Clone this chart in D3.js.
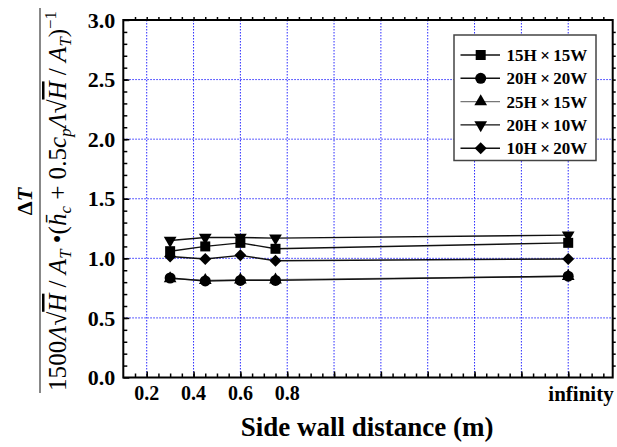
<!DOCTYPE html>
<html>
<head>
<meta charset="utf-8">
<script src="https://cdn.jsdelivr.net/npm/d3@7"></script>
<style>
  body { margin: 0; background: #fff; }
</style>
</head>
<body>
<svg id="chart" width="617" height="447" font-family="'Liberation Serif', 'Times New Roman', Times, 'DejaVu Serif', serif"></svg>
<script>
// side wall distance (m); "infinity" is drawn at 2.0
const distances = [0.3, 0.45, 0.6, 0.75, 2.0];
const seriesNames = ["15H\u2009×\u200915W", "20H\u2009×\u200920W", "25H\u2009×\u200915W", "20H\u2009×\u200910W", "10H\u2009×\u200920W"];
const vals15x15 = [1.06, 1.10, 1.13, 1.08, 1.13];
const vals20x20 = [0.835, 0.81, 0.815, 0.815, 0.85];
const vals25x15 = [0.83, 0.815, 0.82, 0.82, 0.85];
const vals20x10 = [1.15, 1.175, 1.175, 1.17, 1.195];
const vals10x20 = [1.015, 0.995, 1.025, 0.98, 0.995];

const xTickValues = [0.2, 0.4, 0.6, 0.8];
const xTickLabels = ["0.2", "0.4", "0.6", "0.8"];
const infinityLabel = "infinity";
const yTickValues = [0, 0.5, 1.0, 1.5, 2.0, 2.5, 3.0];

const markers = ["square", "circle", "triangleUp", "triangleDown", "diamond"];
const lineColors = ["#111", "#111", "#777", "#111", "#111"];
const allSeries = [vals15x15, vals20x20, vals25x15, vals20x10, vals10x20];

const margin = {top: 20, right: 4.3, bottom: 69.5, left: 123.3}
  , width = 617 - margin.left - margin.right
  , height = 447 - margin.top - margin.bottom;

const svg = d3.select("#chart");

const graph = svg.append("g")
  .attr("transform", "translate(" + margin.left + "," + margin.top + ")");

const xScale = d3.scaleLinear().domain([0.1, 2.19]).range([0, width]);
const yScale = d3.scaleLinear().domain([0, 3]).range([height, 0]);

// grid
const gridColor = "#2a2aff";
graph.append("g").selectAll("line")
  .data(d3.range(0.2, 2.01, 0.2))
  .enter().append("line")
  .attr("x1", d => xScale(d)).attr("x2", d => xScale(d))
  .attr("y1", 0).attr("y2", height)
  .attr("stroke", gridColor).attr("stroke-width", 1)
  .attr("stroke-dasharray", "1.5,1.5");
graph.append("g").selectAll("line")
  .data(yTickValues.slice(1, -1))
  .enter().append("line")
  .attr("x1", 0).attr("x2", width)
  .attr("y1", d => yScale(d)).attr("y2", d => yScale(d))
  .attr("stroke", gridColor).attr("stroke-width", 1)
  .attr("stroke-dasharray", "1.5,1.5");

// ticks (inward on left/bottom, mirrored on right/top)
const xMinor = d3.range(0.15, 2.19, 0.05).map(d => +d.toFixed(2));
const yMinor = d3.range(0.1, 3.0, 0.1).map(d => +d.toFixed(1));
const xMajor = d3.range(0.2, 2.01, 0.2).map(d => +d.toFixed(1));

function styleAxis(g) {
  g.select(".domain").remove();
  g.selectAll("line").attr("stroke", "#000").attr("stroke-width", 1.5);
  g.selectAll("text").remove();
}

graph.append("g").attr("transform", "translate(0," + height + ")")
  .call(d3.axisBottom(xScale).tickValues(xMinor).tickSize(-4)).call(styleAxis);
graph.append("g").attr("transform", "translate(0," + height + ")")
  .call(d3.axisBottom(xScale).tickValues(xMajor).tickSize(-6)).call(styleAxis);
graph.append("g")
  .call(d3.axisTop(xScale).tickValues(xMinor).tickSize(3)).call(styleAxis);
graph.append("g")
  .call(d3.axisLeft(yScale).tickValues(yMinor).tickSize(-4)).call(styleAxis);
graph.append("g")
  .call(d3.axisLeft(yScale).tickValues(yTickValues).tickSize(-6)).call(styleAxis);
graph.append("g").attr("transform", "translate(" + width + ",0)")
  .call(d3.axisRight(yScale).tickValues(yMinor).tickSize(3)).call(styleAxis);

// frame
graph.append("rect")
  .attr("width", width).attr("height", height)
  .attr("fill", "none").attr("stroke", "#000").attr("stroke-width", 2);

// tick labels
graph.append("g").selectAll("text")
  .data(yTickValues)
  .enter().append("text")
  .attr("x", -8).attr("y", d => yScale(d)).attr("dy", "0.35em")
  .attr("text-anchor", "end")
  .attr("font-size", "22px").attr("font-weight", "bold")
  .text(d => d.toFixed(1));

graph.append("g").selectAll("text")
  .data(xTickValues)
  .enter().append("text")
  .attr("x", d => xScale(d)).attr("y", height + 22)
  .attr("text-anchor", "middle")
  .attr("font-size", "20px").attr("font-weight", "bold")
  .text((d, i) => xTickLabels[i]);

graph.append("text")
  .attr("x", width + 1).attr("y", height + 23)
  .attr("text-anchor", "end")
  .attr("font-size", "21px").attr("font-weight", "bold")
  .text(infinityLabel);

// x title
svg.append("text")
  .attr("x", 367).attr("y", 436)
  .attr("text-anchor", "middle")
  .attr("font-size", "27px").attr("font-weight", "bold")
  .text("Side wall distance (m)");

// series
function symbolPath(kind) {
  if (kind === "square") return d3.symbol(d3.symbolSquare, 100)();
  if (kind === "circle") return d3.symbol(d3.symbolCircle, 95)();
  if (kind === "triangleUp" || kind === "triangleDown") return d3.symbol(d3.symbolTriangle, 70)();
  return d3.symbol(d3.symbolSquare, 72)();
}
function symbolRotate(kind) {
  if (kind === "triangleDown") return 180;
  if (kind === "diamond") return 45;
  return 0;
}

const line = d3.line().x((d, i) => xScale(distances[i])).y(d => yScale(d));

const drawOrder = [2, 1, 4, 0, 3];
drawOrder.forEach(k => {
  const g = graph.append("g");
  g.append("path").datum(allSeries[k])
    .attr("d", line)
    .attr("fill", "none").attr("stroke", lineColors[k]).attr("stroke-width", 1.4);
  g.selectAll("path.mk")
    .data(allSeries[k])
    .enter().append("path")
    .attr("class", "mk")
    .attr("d", symbolPath(markers[k]))
    .attr("transform", (d, i) => "translate(" + xScale(distances[i]) + "," + yScale(d) + ") rotate(" + symbolRotate(markers[k]) + ")")
    .attr("fill", "#000");
});

// legend
const legend = svg.append("g");
legend.append("rect")
  .attr("x", 454).attr("y", 35).attr("width", 142).attr("height", 125.5)
  .attr("fill", "#fff").attr("stroke", "#444").attr("stroke-width", 1.5);
seriesNames.forEach((name, k) => {
  const yy = 55 + k * 23.3;
  legend.append("line")
    .attr("x1", 460.5).attr("x2", 500).attr("y1", yy).attr("y2", yy)
    .attr("stroke", lineColors[k]).attr("stroke-width", 1.4);
  legend.append("path")
    .attr("d", symbolPath(markers[k]))
    .attr("transform", "translate(480.7," + yy + ") rotate(" + symbolRotate(markers[k]) + ")")
    .attr("fill", "#000");
  legend.append("text")
    .attr("x", 506.5).attr("y", yy).attr("dy", "0.35em")
    .attr("font-size", "17px").attr("font-weight", "bold")
    .text(name);
});

// y title: fraction
const ytitle = svg.append("g");
ytitle.append("text")
  .attr("transform", "translate(32,201.5) rotate(-90)")
  .attr("text-anchor", "middle")
  .attr("font-size", "22px").attr("font-weight", "bold")
  .call(t => {
    t.append("tspan").text("Δ");
    t.append("tspan").attr("font-style", "italic").text("T");
  });
ytitle.append("line")
  .attr("x1", 40).attr("x2", 40).attr("y1", 8).attr("y2", 393)
  .attr("stroke", "#888").attr("stroke-width", 2);

const den = ytitle.append("text")
  .attr("transform", "translate(66,201) rotate(-90)")
  .attr("text-anchor", "middle")
  .attr("font-size", "24px");
const parts = [
  ["1500", ""], ["Λ", "i"], ["√", ""], ["H", "io"], [" / ", ""], ["A", "i"], ["T", "isub"],
  [" •(", ""], ["h\u0304", "i"], ["c", "isub"], [" + 0.5", ""], ["c", "i"], ["p", "isub"],
  ["Λ", "i"], ["√", ""], ["H", "io"], [" / ", ""], ["A", "i"], ["T", "isub"], [")", ""], ["−1", "sup"]
];
parts.forEach(([s, f]) => {
  const ts = den.append("tspan").text(s);
  if (f.includes("i")) ts.attr("font-style", "italic");
  if (f.includes("o")) ts.style("text-decoration", "overline");
  if (f.includes("sub")) ts.attr("baseline-shift", "-5").attr("font-size", "16px");
  if (f.includes("sup")) ts.attr("baseline-shift", "10").attr("font-size", "16px");
});
// fit the denominator to the length of the fraction bar
const denLen = den.node().getComputedTextLength();
const denScale = 380 / denLen;
den.attr("font-size", (24 * denScale) + "px");
den.selectAll("tspan").filter(function() { return this.getAttribute("font-size"); })
  .attr("font-size", (16 * denScale) + "px");
</script>
</body>
</html>
